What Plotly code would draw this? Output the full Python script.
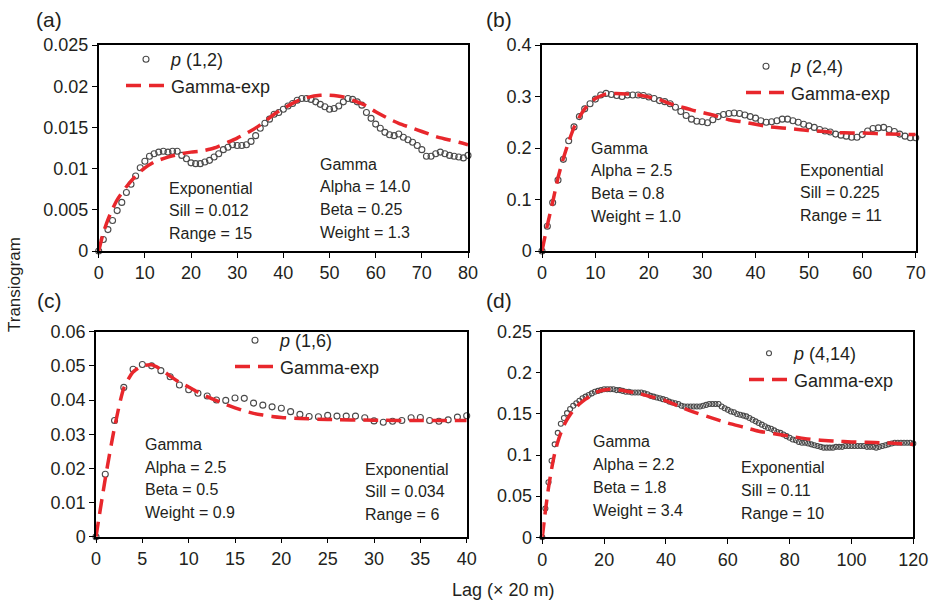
import plotly.graph_objects as go

W, H = 932, 603
FONT = "Liberation Sans, Arial, sans-serif"
INK = "#231f20"
RED = "#e8272c"
GREY = "#4a4a4a"

# ---------------- (a) p(1,2) ----------------
obs_a = [0, 0.0014, 0.0026, 0.0037, 0.0049, 0.0059, 0.0071, 0.0081, 0.0091, 0.0101, 0.0109,
         0.0115, 0.0118, 0.0120, 0.0121, 0.0120, 0.0121, 0.0121, 0.0116, 0.0112, 0.0107,
         0.0106, 0.0106, 0.0108, 0.0110, 0.0114, 0.0118, 0.0123, 0.0126, 0.0129, 0.0128,
         0.0128, 0.0129, 0.0133, 0.0140, 0.0149, 0.0155, 0.0160, 0.0166, 0.0168, 0.0172,
         0.0176, 0.0179, 0.0183, 0.0185, 0.0185, 0.0184, 0.0181, 0.0178, 0.0175, 0.0172,
         0.0173, 0.0176, 0.0181, 0.0185, 0.0184, 0.0181, 0.0177, 0.0168, 0.0161, 0.0154,
         0.0149, 0.0144, 0.0141, 0.0140, 0.0142, 0.0138, 0.0135, 0.0132, 0.0128, 0.0123,
         0.0115, 0.0115, 0.0118, 0.0120, 0.0118, 0.0116, 0.0115, 0.0114, 0.0113, 0.0116]
fit_a_lag = [0, 1, 2, 3, 4, 6, 8, 10, 12, 15, 18, 20, 22, 25, 28, 30, 33, 35, 38, 40, 43, 45,
             48, 50, 53, 55, 58, 60, 63, 65, 68, 70, 73, 75, 78, 80]
fit_a_val = [0, 0.0022, 0.0038, 0.0051, 0.0062, 0.0078, 0.0091, 0.0101, 0.0108, 0.0114, 0.0118,
             0.0120, 0.0121, 0.0125, 0.0132, 0.0137, 0.0146, 0.0153, 0.0166, 0.0173, 0.0182,
             0.0186, 0.0189, 0.0189, 0.0187, 0.0183, 0.0176, 0.0169, 0.0160, 0.0155, 0.0149,
             0.0145, 0.0139, 0.0136, 0.0132, 0.0129]

# ---------------- (b) p(2,4) ----------------
obs_b = [0, 0.048, 0.094, 0.138, 0.178, 0.214, 0.241, 0.261, 0.276, 0.286, 0.295,
         0.303, 0.306, 0.304, 0.302, 0.300, 0.303, 0.303, 0.303, 0.302, 0.299,
         0.296, 0.292, 0.290, 0.286, 0.279, 0.271, 0.263, 0.256, 0.252, 0.251,
         0.249, 0.255, 0.261, 0.265, 0.267, 0.268, 0.267, 0.264, 0.261, 0.258,
         0.253, 0.250, 0.251, 0.253, 0.256, 0.256, 0.253, 0.250, 0.246, 0.243,
         0.240, 0.236, 0.233, 0.231, 0.227, 0.225, 0.223, 0.221, 0.221, 0.226,
         0.233, 0.238, 0.239, 0.240, 0.236, 0.232, 0.227, 0.223, 0.220, 0.220]
fit_b_lag = [0, 1, 2, 3, 4, 5, 6, 7, 8, 9, 10, 11, 12, 14, 16, 18, 20, 22, 24, 26, 28, 30, 32,
             35, 38, 40, 42, 45, 48, 50, 53, 55, 58, 60, 65, 70]
fit_b_val = [0, 0.050, 0.095, 0.142, 0.180, 0.212, 0.240, 0.260, 0.276, 0.288, 0.296, 0.301,
             0.305, 0.306, 0.305, 0.303, 0.299, 0.294, 0.286, 0.280, 0.274, 0.269, 0.264,
             0.255, 0.250, 0.246, 0.242, 0.239, 0.236, 0.234, 0.232, 0.230, 0.229, 0.229,
             0.227, 0.226]

# ---------------- (c) p(1,6) ----------------
obs_c = [0, 0.0183, 0.0340, 0.0437, 0.0490, 0.0504, 0.0500, 0.0486, 0.0468, 0.0444, 0.0430,
         0.0420, 0.0412, 0.0400, 0.0399, 0.0406, 0.0405, 0.0391, 0.0385, 0.0380, 0.0376,
         0.0366, 0.0358, 0.0352, 0.0351, 0.0355, 0.0353, 0.0353, 0.0353, 0.0348, 0.0339,
         0.0335, 0.0338, 0.0340, 0.0348, 0.0349, 0.0340, 0.0338, 0.0342, 0.0350, 0.0354]
fit_c_lag = [0, 1, 2, 3, 4, 5, 6, 7, 8, 9, 10, 11, 12, 13, 14, 15, 16, 17, 18, 19, 20, 22, 25,
             30, 35, 40]
fit_c_val = [0, 0.0170, 0.0320, 0.0435, 0.0482, 0.0500, 0.0503, 0.0490, 0.0470, 0.0452, 0.0438,
             0.0423, 0.0410, 0.0398, 0.0387, 0.0377, 0.0368, 0.0361, 0.0356, 0.0352, 0.0349,
             0.0346, 0.0343, 0.0341, 0.0340, 0.0340]

# ---------------- (d) p(4,14) ----------------
obs_d = [0, 0.035, 0.067, 0.093, 0.113, 0.127, 0.138, 0.145, 0.151, 0.156, 0.160,
         0.163, 0.166, 0.169, 0.171, 0.173, 0.175, 0.177, 0.178, 0.179, 0.180,
         0.180, 0.180, 0.180, 0.179, 0.179, 0.178, 0.177, 0.177, 0.176, 0.176,
         0.176, 0.176, 0.175, 0.174, 0.172, 0.171, 0.170, 0.169, 0.168, 0.167,
         0.165, 0.164, 0.163, 0.162, 0.160, 0.159, 0.159, 0.159, 0.159, 0.159,
         0.159, 0.160, 0.161, 0.162, 0.162, 0.162, 0.162, 0.159, 0.157, 0.155,
         0.153, 0.152, 0.150, 0.149, 0.148, 0.147, 0.145, 0.143, 0.141, 0.139,
         0.137, 0.135, 0.133, 0.132, 0.130, 0.128, 0.127, 0.125, 0.123, 0.121,
         0.119, 0.118, 0.116, 0.115, 0.115, 0.114, 0.113, 0.112, 0.111, 0.110,
         0.109, 0.109, 0.109, 0.109, 0.110, 0.110, 0.110, 0.111, 0.111, 0.111,
         0.111, 0.111, 0.111, 0.111, 0.110, 0.110, 0.110, 0.109, 0.110, 0.111,
         0.112, 0.113, 0.114, 0.115, 0.115, 0.115, 0.115, 0.115, 0.115, 0.114]
fit_d_lag = [0, 1, 2, 3, 4, 5, 6, 7, 8, 9, 10, 12, 14, 16, 18, 20, 22, 25, 28, 30, 35, 40, 45,
             50, 55, 60, 65, 70, 75, 80, 85, 90, 95, 100, 105, 110, 115, 120]
fit_d_val = [0, 0.032, 0.060, 0.083, 0.102, 0.116, 0.127, 0.136, 0.143, 0.149, 0.154, 0.162,
             0.168, 0.173, 0.177, 0.179, 0.180, 0.179, 0.177, 0.176, 0.171, 0.166, 0.158,
             0.151, 0.145, 0.139, 0.134, 0.129, 0.126, 0.123, 0.120, 0.118, 0.117, 0.116,
             0.1155, 0.115, 0.114, 0.113]

series_names = ["<i>p</i> (1,2)", "<i>p</i> (2,4)", "<i>p</i> (1,6)", "<i>p</i> (4,14)"]
fit_name = "Gamma-exp"
panel_tags = ["(a)", "(b)", "(c)", "(d)"]

x_ranges = [[0, 80], [0, 70], [0, 40], [0, 120]]
x_ticks = [[0, 10, 20, 30, 40, 50, 60, 70, 80],
           [0, 10, 20, 30, 40, 50, 60, 70],
           [0, 5, 10, 15, 20, 25, 30, 35, 40],
           [0, 20, 40, 60, 80, 100, 120]]
y_ranges = [[0, 0.025], [0, 0.4], [0, 0.06], [0, 0.25]]
y_ticks = [[0, 0.005, 0.01, 0.015, 0.02, 0.025],
           [0, 0.1, 0.2, 0.3, 0.4],
           [0, 0.01, 0.02, 0.03, 0.04, 0.05, 0.06],
           [0, 0.05, 0.1, 0.15, 0.2, 0.25]]
y_ticktext = [["0", "0.005", "0.01", "0.015", "0.02", "0.025"],
              ["0", "0.1", "0.2", "0.3", "0.4"],
              ["0", "0.01", "0.02", "0.03", "0.04", "0.05", "0.06"],
              ["0", "0.05", "0.1", "0.15", "0.2", "0.25"]]

gamma_text = [["Gamma", "Alpha = 14.0", "Beta = 0.25", "Weight = 1.3"],
              ["Gamma", "Alpha = 2.5", "Beta = 0.8", "Weight = 1.0"],
              ["Gamma", "Alpha = 2.5", "Beta = 0.5", "Weight = 0.9"],
              ["Gamma", "Alpha = 2.2", "Beta = 1.8", "Weight = 3.4"]]
exp_text = [["Exponential", "Sill = 0.012", "Range = 15"],
            ["Exponential", "Sill = 0.225", "Range = 11"],
            ["Exponential", "Sill = 0.034", "Range = 6"],
            ["Exponential", "Sill = 0.11", "Range = 10"]]

obs = [obs_a, obs_b, obs_c, obs_d]
fits = [(fit_a_lag, fit_a_val), (fit_b_lag, fit_b_val), (fit_c_lag, fit_c_val), (fit_d_lag, fit_d_val)]

# plot-area boxes in pixels: (left, right, top, bottom)
boxes = [(98.7, 468.0, 45.0, 251.0),
         (542.0, 915.7, 45.0, 251.0),
         (96.0, 466.7, 331.7, 536.7),
         (542.3, 913.3, 331.7, 537.3)]
# text block anchors in pixels: gamma (left, first-line y), exponential (left, first-line y)
gamma_pos = [(318, 164), (589, 148), (142.7, 444.3), (590.7, 441.7)]
exp_pos = [(166.7, 188), (797.7, 170), (363.3, 469), (739.3, 467.7)]
line_step = 22.8
legend_pos = [(121, 41), (741, 48), (230, 322), (744, 335)]
tag_pos = [(34, 20), (484, 20), (35, 300), (484, 300)]
marker_size = [6, 6, 6, 5]


def px(x):
    return x / W


def py(y):
    return 1 - y / H


fig = go.Figure()
layout = dict(
    width=W, height=H,
    margin=dict(l=0, r=0, t=0, b=0),
    paper_bgcolor="white", plot_bgcolor="white",
    font=dict(family=FONT, color=INK, size=16),
    annotations=[],
)

for i in range(4):
    n = "" if i == 0 else str(i + 1)
    leg = "legend" if i == 0 else "legend" + str(i + 1)
    l, r, t, b = boxes[i]
    axis_common = dict(
        showline=True, linecolor="black", linewidth=1.5, mirror=True,
        ticks="outside", ticklen=5, tickwidth=1.2, tickcolor="black",
        showgrid=False, zeroline=False, automargin=False,
        tickfont=dict(family=FONT, size=18, color=INK),
    )
    layout["xaxis" + n] = dict(axis_common, domain=[px(l), px(r)], range=x_ranges[i],
                               tickmode="array", tickvals=x_ticks[i],
                               anchor="y" + n)
    layout["yaxis" + n] = dict(axis_common, domain=[py(b), py(t)], range=y_ranges[i],
                               tickmode="array", tickvals=y_ticks[i], ticktext=y_ticktext[i],
                               anchor="x" + n)

    lags = list(range(len(obs[i])))
    fig.add_trace(go.Scatter(
        x=lags, y=obs[i], mode="markers", name=series_names[i],
        marker=dict(symbol="circle-open", size=marker_size[i], color=GREY,
                    line=dict(width=1.1, color=GREY)),
        xaxis="x" + n, yaxis="y" + n, legend=leg, cliponaxis=False,
    ))
    fig.add_trace(go.Scatter(
        x=fits[i][0], y=fits[i][1], mode="lines", name=fit_name,
        line=dict(color=RED, width=3.5, dash="15px,8px", shape="spline", smoothing=0.6),
        xaxis="x" + n, yaxis="y" + n, legend=leg,
    ))

    lx, ly = legend_pos[i]
    layout[leg] = dict(
        x=px(lx), y=py(ly), xanchor="left", yanchor="top",
        bgcolor="rgba(0,0,0,0)", borderwidth=0, itemwidth=40,
        font=dict(family=FONT, size=18, color=INK), tracegroupgap=0,
    )

    gx, gy = gamma_pos[i]
    for k, s in enumerate(gamma_text[i]):
        layout["annotations"].append(dict(
            text=s, x=px(gx), y=py(gy + k * line_step), xref="paper", yref="paper",
            xanchor="left", yanchor="middle", showarrow=False,
            font=dict(family=FONT, size=16, color=INK)))
    ex, ey = exp_pos[i]
    for k, s in enumerate(exp_text[i]):
        layout["annotations"].append(dict(
            text=s, x=px(ex), y=py(ey + k * line_step), xref="paper", yref="paper",
            xanchor="left", yanchor="middle", showarrow=False,
            font=dict(family=FONT, size=16, color=INK)))
    tx, ty = tag_pos[i]
    layout["annotations"].append(dict(
        text=panel_tags[i], x=px(tx), y=py(ty), xref="paper", yref="paper",
        xanchor="left", yanchor="middle", showarrow=False,
        font=dict(family=FONT, size=21, color=INK)))

layout["annotations"].append(dict(
    text="Transiogram", x=px(14), y=py(285), xref="paper", yref="paper",
    textangle=-90, showarrow=False, xanchor="center", yanchor="middle",
    font=dict(family=FONT, size=17, color=INK)))
layout["annotations"].append(dict(
    text="Lag (\u00d7 20 m)", x=px(503), y=py(590), xref="paper", yref="paper",
    showarrow=False, xanchor="center", yanchor="middle",
    font=dict(family=FONT, size=18, color=INK)))

fig.update_layout(**layout)
fig.write_html("out.html")
